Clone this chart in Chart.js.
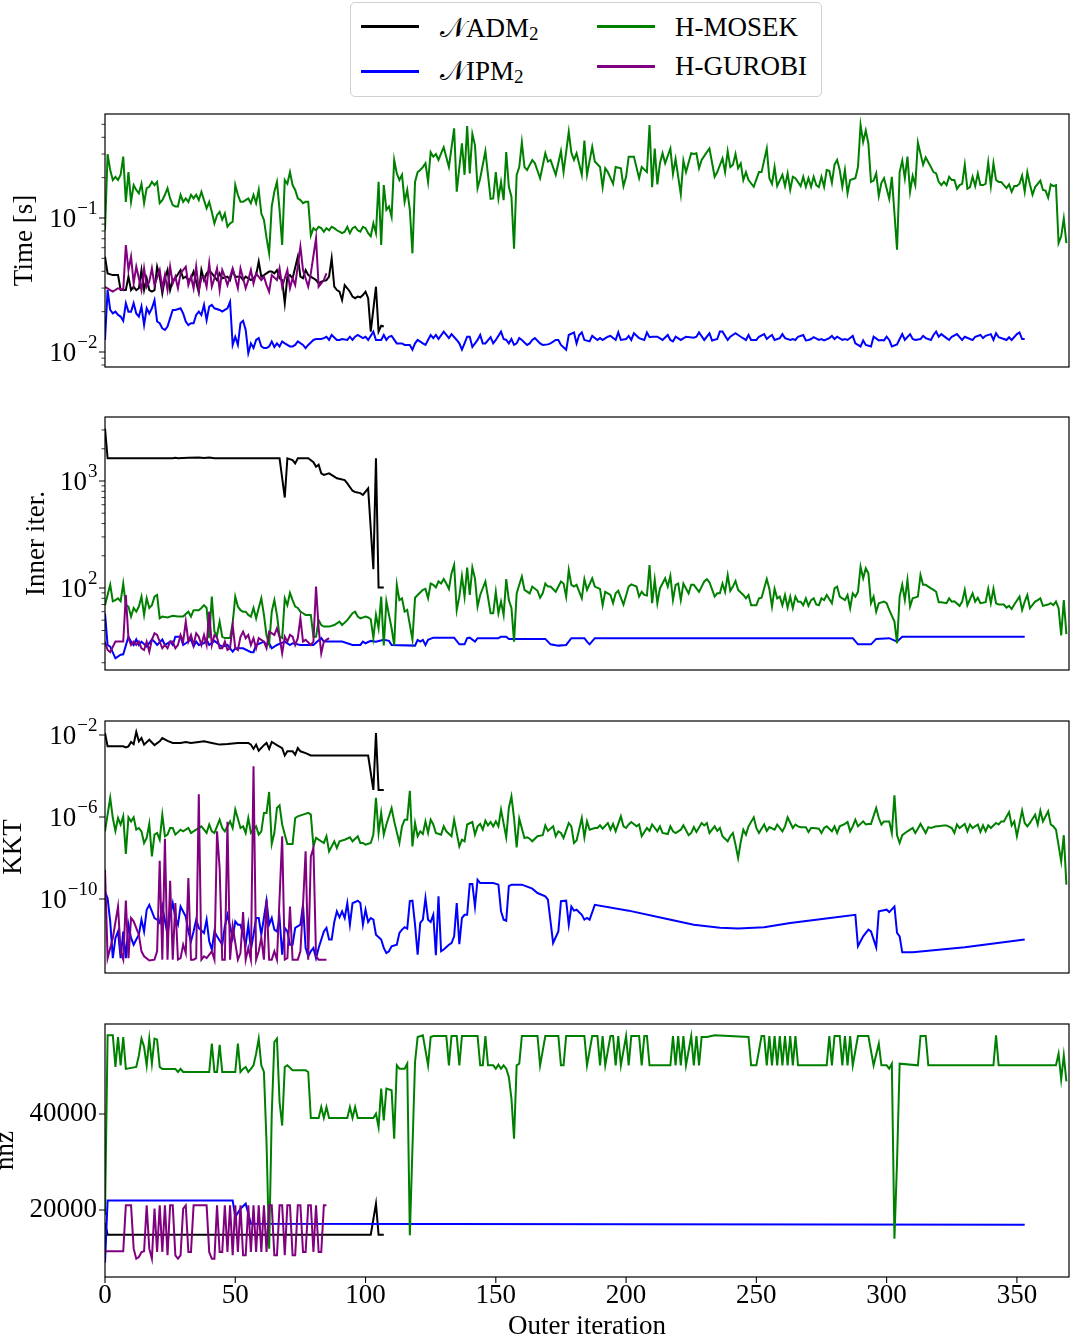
<!DOCTYPE html>
<html><head><meta charset="utf-8">
<script src="https://cdn.jsdelivr.net/npm/chart.js@4.4.1/dist/chart.umd.min.js"></script>
<style>
html,body{margin:0;padding:0;background:#fff;}
body{width:1071px;height:1336px;position:relative;overflow:hidden;font-family:"Liberation Serif","DejaVu Serif",serif;}
canvas.pan{position:absolute;left:0;}
#lgbox{position:absolute;left:350px;top:2px;width:472px;height:95px;border:1px solid #d0d0d0;border-radius:5px;box-sizing:border-box;background:#fff;}
.ll{position:absolute;height:2.6px;}
.lt{position:absolute;font-size:27px;line-height:27px;white-space:nowrap;color:#000;}
.sb{font-size:19px;position:relative;top:3px;}
</style></head>
<body>
<div id="lgbox"></div>
<div class="ll" style="left:361px;top:25.4px;width:58px;background:#000000"></div>
<div class="ll" style="left:361px;top:70.4px;width:58px;background:#0000ff"></div>
<div class="ll" style="left:597px;top:25.4px;width:58px;background:#008000"></div>
<div class="ll" style="left:597px;top:65.4px;width:58px;background:#800080"></div>
<div class="lt" id="lg0" style="left:440px;top:14.7px"></div>
<div class="lt" id="lg1" style="left:440px;top:58.1px"></div>
<div class="lt" id="lg2" style="left:675px;top:14.1px"></div>
<div class="lt" id="lg3" style="left:675px;top:53.4px"></div>
<canvas class="pan" id="c1" width="1071" height="273" style="top:104px"></canvas>
<canvas class="pan" id="c2" width="1071" height="273" style="top:407px"></canvas>
<canvas class="pan" id="c3" width="1071" height="272" style="top:711px"></canvas>
<canvas class="pan" id="c4" width="1071" height="322" style="top:1014px"></canvas>
<script>
// ---------- labels ----------
const seriesNames = ['𝒩ADM', '𝒩IPM', 'H-MOSEK', 'H-GUROBI'];
const seriesSubs = ['2', '2', '', ''];
const seriesColors = ['#000000', '#0000ff', '#008000', '#800080'];
const panelTitles = ['Time [s]', 'Inner iter.', 'KKT', 'nnz'];
const xTitle = 'Outer iteration';
const iterTicks = [0, 50, 100, 150, 200, 250, 300, 350];
const iterLabels = ['0', '50', '100', '150', '200', '250', '300', '350'];

const timeMajor = [0.01, 0.1];
const timeExp = ['−2', '−1'];
const timeMinor = [0.008, 0.009, 0.02, 0.03, 0.04, 0.05, 0.06, 0.07, 0.08, 0.09, 0.2, 0.3, 0.4, 0.5];
const innerMajor = [100, 1000];
const innerExp = ['2', '3'];
const innerMinor = [20, 30, 40, 50, 60, 70, 80, 90, 200, 300, 400, 500, 600, 700, 800, 900, 2000, 3000];
const kktMajor = [1e-10, 1e-6, 1e-2];
const kktExp = ['−10', '−6', '−2'];
const nnzMajor = [20000, 40000];
const nnzLabels = ['20000', '40000'];

// ---------- Time [s] ----------
const timeADM = [[0,.0514],[1,.0386],[3,.0375],[5,.0375],[6,.029],[8,.029],[9,.0365],[10,.029],[11,.0307],[12,.029],[13,.0299],[14,.0409],[15,.029],[16,.0355],[17,.029],[18,.0282],[19,.029],[20,.0433],[21,.0365],[22,.0274],[23,.0355],[24,.0409],[25,.029],[26,.0344],[27,.0355],[29,.0409],[30,.0355],[31,.0365],[32,.0344],[33,.0355],[34,.0398],[36,.0278],[37,.0409],[38,.0344],[39,.0386],[40,.0409],[42,.0365],[43,.0344],[44,.0386],[45,.0355],[47,.0365],[48,.0344],[49,.0409],[50,.0365],[52,.0365],[53,.0344],[54,.0365],[56,.0344],[57,.0355],[58,.0375],[59,.0473],[60,.0365],[61,.0375],[63,.0398],[64,.0398],[65,.0386],[66,.0409],[67,.0355],[68,.0344],[69,.0231],[70,.0365],[71,.0375],[72,.0355],[74,.0514],[75,.0365],[76,.0355],[77,.0409],[78,.0375],[80,.0355],[81,.0344],[82,.0325],[83,.0335],[85,.0344],[86,.0365],[87,.050],[88,.0307],[89,.029],[90,.0282],[91,.0244],[92,.0316],[93,.0299],[94,.0282],[95,.0259],[96,.0252],[97,.0259],[98,.0256],[99,.0266],[100,.0282],[101,.0252],[102,.0142],[104,.0307],[105,.0142],[106,.0157],[107,.0155]];
const timeIPM = [[0,.0123],[1,.029],[2,.0206],[3,.0194],[4,.02],[5,.0189],[6,.0184],[7,.0171],[8,.0231],[9,.02],[10,.02],[11,.0231],[12,.0194],[13,.0184],[14,.0218],[15,.0159],[16,.0212],[17,.0194],[18,.0212],[19,.0244],[20,.0169],[21,.0164],[22,.015],[23,.0146],[24,.0155],[25,.0179],[26,.0206],[27,.0206],[29,.0212],[30,.0194],[31,.0169],[32,.0159],[33,.0164],[34,.0164],[35,.0189],[36,.02],[37,.0189],[38,.0225],[39,.0173],[40,.0218],[41,.0225],[42,.0212],[44,.0206],[45,.02],[46,.0206],[47,.0212],[48,.0237],[49,.0113],[50,.013],[51,.0113],[52,.0164],[53,.0171],[54,.0146],[55,.0098],[56,.0116],[57,.0107],[58,.0123],[59,.0127],[60,.011],[61,.0107],[62,.0107],[63,.011],[64,.012],[65,.0109],[66,.0116],[67,.011],[68,.012],[69,.0116],[71,.011],[72,.011],[73,.0113],[74,.012],[76,.0113],[77,.0107],[78,.0113],[80,.0123],[81,.0125],[83,.0125],[84,.0127],[85,.013],[86,.0123],[87,.0134],[89,.0123],[90,.0123],[91,.0125],[93,.0123],[94,.013],[95,.0123],[96,.013],[97,.0134],[99,.0127],[100,.013],[101,.0123],[103,.0142],[104,.0123],[106,.0123],[107,.0134],[108,.0123],[109,.013],[110,.0132],[112,.0116],[113,.0116],[114,.0116],[115,.0113],[117,.0113],[118,.0104],[119,.0116],[120,.0123],[122,.0116],[123,.0113],[124,.0123],[125,.0134],[126,.0127],[127,.0134],[128,.0125],[130,.0142],[132,.0127],[133,.0136],[135,.0123],[136,.0116],[137,.0104],[138,.0116],[139,.013],[140,.013],[141,.0109],[143,.0123],[144,.0134],[145,.0116],[146,.0116],[148,.0129],[149,.0116],[150,.0123],[152,.0142],[153,.0125],[154,.0123],[155,.0116],[156,.0125],[157,.0113],[158,.0116],[159,.0127],[160,.0123],[162,.0113],[163,.0116],[164,.0123],[165,.0127],[167,.0116],[168,.0113],[170,.0114],[171,.0116],[173,.0123],[174,.0123],[175,.0113],[177,.0104],[178,.0134],[180,.014],[181,.0116],[182,.0134],[183,.014],[184,.0123],[186,.012],[187,.0132],[189,.0123],[190,.0127],[191,.0123],[193,.013],[194,.0132],[196,.0123],[197,.014],[198,.0123],[200,.0125],[201,.0132],[202,.0123],[203,.0138],[205,.0127],[207,.0123],[208,.014],[209,.0129],[210,.013],[212,.013],[214,.0123],[216,.0134],[217,.0123],[218,.012],[219,.013],[221,.0123],[223,.013],[226,.0128],[227,.013],[228,.014],[230,.0123],[232,.0138],[233,.0122],[235,.0125],[236,.0142],[237,.0142],[239,.0123],[240,.013],[242,.0138],[244,.013],[246,.0123],[247,.0134],[248,.0123],[250,.0123],[251,.013],[253,.0136],[254,.0125],[255,.013],[256,.0134],[257,.0123],[259,.0127],[260,.0136],[261,.0127],[263,.0123],[264,.0125],[265,.0123],[266,.013],[268,.0134],[269,.0122],[270,.0123],[271,.0125],[272,.0129],[274,.0123],[275,.0125],[276,.0122],[278,.0127],[279,.0132],[280,.0125],[281,.013],[283,.0123],[284,.0125],[285,.0123],[287,.0132],[288,.0116],[290,.011],[291,.0122],[292,.0113],[294,.011],[295,.013],[297,.0122],[298,.0123],[299,.0122],[300,.013],[301,.0123],[302,.011],[304,.0114],[305,.0125],[306,.0136],[307,.0123],[309,.0136],[310,.0125],[311,.0123],[313,.0125],[314,.0132],[315,.0127],[317,.0123],[318,.0134],[319,.0142],[320,.013],[321,.0136],[323,.0127],[324,.0123],[325,.013],[327,.0136],[328,.0129],[329,.0123],[330,.013],[332,.0125],[333,.0123],[334,.013],[336,.0134],[337,.0127],[338,.0132],[340,.0136],[341,.0123],[342,.0138],[343,.0129],[345,.0125],[346,.0123],[347,.0129],[348,.0123],[350,.0136],[351,.014],[352,.0125],[353,.0125]];
const timeMOSEK = [[0,.081],[1,.30],[2,.228],[3,.192],[4,.203],[5,.192],[6,.21],[7,.287],[8,.132],[9,.22],[10,.132],[11,.176],[12,.162],[13,.153],[14,.18],[15,.129],[16,.167],[17,.171],[18,.186],[19,.176],[20,.186],[21,.129],[22,.136],[23,.149],[24,.167],[25,.14],[26,.125],[27,.122],[28,.122],[29,.149],[30,.132],[31,.14],[32,.132],[33,.149],[34,.14],[35,.149],[36,.136],[37,.157],[38,.136],[39,.118],[40,.132],[41,.111],[42,.091],[43,.105],[44,.111],[45,.097],[46,.108],[47,.086],[48,.091],[49,.094],[50,.176],[51,.149],[52,.132],[53,.132],[54,.136],[55,.14],[56,.129],[57,.149],[58,.129],[59,.162],[60,.108],[61,.097],[62,.071],[63,.0545],[64,.122],[65,.157],[66,.186],[67,.115],[68,.063],[69,.192],[70,.18],[71,.22],[72,.176],[73,.162],[74,.14],[75,.136],[76,.129],[77,.132],[78,.132],[79,.074],[80,.084],[81,.081],[82,.086],[83,.084],[84,.079],[85,.084],[86,.081],[87,.086],[88,.084],[89,.081],[90,.079],[91,.077],[92,.079],[93,.086],[94,.077],[95,.084],[96,.086],[97,.081],[98,.079],[99,.086],[100,.084],[101,.077],[102,.073],[103,.091],[104,.077],[105,.186],[106,.063],[107,.176],[108,.115],[109,.122],[110,.102],[111,.271],[112,.215],[113,.192],[114,.21],[115,.132],[116,.162],[117,.115],[118,.0545],[119,.186],[120,.22],[121,.228],[122,.24],[123,.256],[124,.186],[125,.31],[126,.287],[127,.30],[128,.271],[129,.304],[130,.337],[132,.24],[134,.467],[135,.157],[137,.361],[138,.21],[139,.486],[140,.215],[141,.424],[142,.35],[143,.167],[144,.198],[146,.315],[148,.139],[149,.14],[150,.22],[151,.14],[152,.186],[153,.136],[154,.31],[155,.171],[156,.144],[157,.059],[158,.21],[159,.24],[160,.367],[161,.24],[162,.228],[164,.271],[165,.256],[167,.198],[169,.304],[170,.264],[171,.271],[173,.21],[175,.315],[176,.22],[178,.44],[179,.307],[180,.271],[181,.304],[183,.21],[184,.378],[185,.21],[187,.34],[188,.264],[190,.24],[191,.17],[192,.235],[193,.22],[195,.18],[196,.24],[198,.235],[199,.173],[200,.203],[201,.287],[203,.287],[205,.198],[206,.24],[208,.22],[209,.494],[210,.17],[211,.33],[212,.178],[213,.256],[214,.304],[215,.256],[217,.33],[218,.213],[219,.275],[221,.15],[222,.268],[223,.22],[225,.304],[226,.30],[227,.304],[228,.235],[229,.271],[231,.31],[232,.33],[234,.203],[235,.22],[237,.278],[238,.22],[239,.315],[240,.24],[241,.25],[242,.30],[243,.235],[244,.256],[245,.192],[246,.22],[247,.192],[249,.171],[251,.22],[252,.22],[254,.33],[255,.198],[256,.18],[257,.24],[258,.173],[260,.21],[261,.173],[262,.215],[263,.162],[264,.203],[265,.198],[267,.173],[268,.203],[269,.171],[270,.198],[271,.171],[272,.203],[273,.176],[274,.17],[275,.203],[276,.171],[277,.228],[278,.225],[279,.183],[280,.25],[281,.271],[282,.228],[283,.171],[284,.228],[285,.153],[286,.192],[288,.198],[289,.24],[290,.494],[291,.37],[292,.45],[293,.36],[294,.186],[295,.19],[296,.215],[297,.146],[298,.183],[299,.198],[301,.139],[302,.203],[304,.058],[305,.22],[306,.268],[307,.198],[308,.287],[309,.157],[310,.206],[311,.176],[312,.365],[314,.25],[315,.283],[317,.24],[318,.22],[319,.215],[320,.186],[321,.176],[322,.186],[323,.176],[324,.203],[325,.192],[326,.192],[327,.165],[328,.176],[329,.18],[330,.25],[331,.165],[332,.17],[333,.203],[334,.173],[335,.215],[336,.176],[337,.176],[338,.18],[339,.26],[340,.173],[341,.256],[342,.192],[343,.186],[344,.186],[345,.176],[346,.167],[347,.178],[348,.157],[349,.173],[350,.173],[351,.18],[352,.207],[353,.157],[354,.22],[355,.178],[356,.149],[357,.17],[359,.19],[360,.162],[361,.16],[362,.142],[363,.178],[364,.173],[365,.176],[366,.065],[367,.073],[368,.099],[369,.065]];
const timeGUROBI = [[0,.0307],[2,.029],[3,.0282],[5,.0299],[7,.029],[8,.0628],[9,.0409],[10,.0514],[11,.0325],[12,.0433],[14,.029],[15,.0421],[16,.0307],[17,.0335],[18,.0421],[19,.0316],[21,.0409],[22,.0299],[23,.0375],[24,.029],[25,.0433],[26,.0325],[27,.0365],[28,.0299],[29,.0386],[31,.0433],[32,.0316],[33,.0365],[34,.0299],[35,.0433],[36,.029],[37,.0355],[38,.0365],[39,.0307],[40,.0459],[41,.0307],[42,.0355],[43,.0421],[44,.029],[45,.0409],[46,.0365],[47,.0316],[49,.0421],[50,.0355],[51,.0299],[52,.0421],[53,.0355],[54,.0299],[55,.0344],[56,.0409],[57,.0325],[58,.0386],[60,.0344],[61,.0365],[62,.0316],[63,.0282],[64,.0375],[66,.0344],[67,.0421],[68,.0307],[69,.0355],[70,.0409],[71,.0299],[72,.0355],[73,.0316],[75,.0611],[76,.0409],[78,.0307],[79,.0386],[81,.0706],[82,.0307],[84,.0344],[85,.0386]];

// ---------- Inner iter. ----------
const innerADM = [[0,3100],[1,1630],[26,1630],[27,1650],[28,1630],[32,1650],[36,1660],[38,1640],[40,1660],[42,1630],[67,1630],[69,700],[70,1630],[72,1570],[73,1460],[74,1630],[78,1630],[80,1500],[81,1360],[82,1420],[83,1180],[84,1140],[86,1180],[88,1100],[89,1060],[92,1020],[93,950],[95,810],[96,790],[98,770],[99,740],[101,853],[103,150],[104,1630],[105,101],[107,101]];
const innerIPM = [[0,58],[1,29.3],[2,28.3],[4,22],[6,23.8],[7,24],[9,35],[10,31.5],[11,29.3],[12,33],[13,29.3],[14,31.5],[16,28.3],[18,33],[19,31.5],[20,29.3],[22,33],[23,29.3],[25,31.5],[26,29.3],[27,35],[29,35],[30,29.3],[31,30.4],[33,33],[34,28.3],[35,31.5],[36,29.3],[38,30.4],[39,33],[40,29.3],[42,32],[44,29.3],[45,28.3],[47,29.3],[48,27.3],[49,25.4],[50,27.3],[53,27.3],[56,25.1],[57,25.1],[58,29.3],[61,31.5],[62,29.3],[63,30.4],[64,27.3],[66,29.3],[69,31.5],[71,29.3],[72,30.4],[75,29.3],[80,29.3],[83,34],[84,31.5],[91,31.5],[95,29.3],[98,29.3],[99,31.5],[100,30.4],[102,32],[104,31.5],[107,32.7],[109,32],[110,29.3],[119,28.9],[120,32.7],[121,31.5],[122,32.7],[123,29.3],[124,32.7],[126,34.3],[134,34.3],[136,29.7],[138,29.7],[139,33.9],[140,34.3],[142,31.5],[143,33.9],[151,33.9],[152,35],[154,35],[155,33.4],[169,33.4],[171,29.7],[174,28.9],[177,29.3],[179,33.9],[184,33.9],[185,31.5],[186,29.7],[188,33.9],[287,33.9],[289,29.7],[294,29.7],[296,33.4],[301,33.9],[304,31.5],[306,35],[353,35]];
const innerMOSEK = [[0,69],[1,86],[2,107],[3,75],[4,77],[5,80],[6,75],[7,110],[8,69],[9,67],[10,54],[11,65],[12,60],[13,67],[14,83],[15,56],[16,80],[17,65],[18,69],[19,83],[20,86],[21,52],[22,54],[24,53],[26,55],[28,54],[30,54],[31,57],[32,60],[33,54],[34,62],[36,62],[37,65],[38,69],[39,65],[40,34],[41,83],[42,39],[43,36],[44,48.5],[45,35],[46,34],[48,34],[49,47],[50,83],[51,67],[52,62],[53,60],[54,60],[55,56],[56,54],[57,65],[58,52],[59,65],[60,80],[61,56],[62,36],[63,30],[64,60],[65,77],[66,56],[67,35],[68,34],[69,80],[70,69],[71,90],[72,77],[73,67],[74,65],[75,60],[76,58],[77,56],[79,56],[80,35],[81,35],[82,50],[83,45],[84,43.5],[86,43.5],[88,45],[90,48.5],[91,45],[93,50],[94,54],[95,58],[96,60],[97,54],[98,52],[100,54],[101,53],[102,51],[103,34],[104,56],[105,42],[106,83],[107,29],[108,75],[109,56],[110,42],[111,29],[112,107],[113,77],[114,80],[115,60],[116,62.3],[118,33],[119,81],[120,86],[122,96],[123,98],[124,80],[125,110],[126,107],[127,101],[128,115],[129,110],[130,121],[131,110],[132,98],[133,137],[134,164],[135,62],[136,83],[137,129],[138,83],[139,155],[140,86],[141,155],[142,123],[143,67],[144,86],[146,115],[148,58],[149,58],[150,92],[151,58],[152,74.5],[153,56],[154,121],[155,77],[156,65],[157,31.5],[158,89],[159,107],[160,128],[161,96],[163,89],[164,103],[166,94],[167,81],[168,89],[169,110],[170,103],[171,103],[173,92],[175,115],[176,110],[177,83],[178,147],[179,107],[180,103],[181,107],[183,80],[184,121],[185,96],[187,123],[188,103],[190,98],[191,69],[192,92],[194,86],[195,72],[196,89],[197,94],[199,70],[201,103],[202,108],[204,103],[205,83],[206,92],[207,86],[208,85],[209,164],[210,72],[211,119],[212,72],[213,99],[215,123],[216,103],[217,130],[218,77],[219,107],[220,110],[221,77],[222,110],[223,99],[224,89],[225,107],[226,107],[228,92],[229,103],[230,115],[231,121],[232,113],[234,83],[235,89],[236,89],[237,110],[238,92],[239,132],[240,94],[241,103],[242,116],[243,96],[245,86],[246,80],[247,86],[248,69],[250,69],[251,80],[252,81],[254,121],[255,98],[256,67],[257,98],[258,80],[259,83],[260,69],[261,86],[262,65.5],[263,83],[264,64.6],[265,83],[266,74.5],[267,74.5],[268,69],[269,80],[270,68],[271,77],[272,80],[273,70],[274,69],[275,80],[276,77],[277,86],[279,72],[280,99],[281,103],[282,83],[284,77],[285,86],[286,64.6],[287,89],[288,83],[289,92],[290,158],[291,123],[292,153],[293,137],[294,72],[295,83],[296,60],[297,72],[299,74.5],[300,72],[301,62.3],[303,48.5],[304,30.4],[305,83],[306,107],[307,77],[308,119],[309,67],[310,80],[312,83],[313,132],[314,107],[315,107],[317,99],[318,96],[319,92],[320,73.5],[321,73.5],[323,72],[324,80],[325,74.5],[326,75],[328,68],[329,74.5],[330,96],[331,69],[333,89],[334,74.5],[335,81],[336,72],[338,73.5],[339,98],[340,72],[341,98],[342,72],[343,70],[345,70],[346,65.5],[347,68],[348,63.6],[349,70],[351,83],[352,62.3],[353,74.5],[354,86],[355,64.6],[357,74.5],[358,77],[359,80],[360,68],[362,70],[363,72],[364,69],[365,74.5],[366,64.6],[367,36],[368,77],[369,37]];
const innerGUROBI = [[0,31.5],[1,26.3],[2,25.1],[4,31.5],[5,31.5],[7,31.5],[8,86],[9,33.9],[10,29.3],[11,31.5],[12,29.3],[13,31.5],[14,27.3],[15,26.3],[16,31.5],[17,25.4],[18,32.7],[19,37.7],[20,36.4],[22,27.3],[23,29.3],[24,27.3],[25,31.5],[26,31.5],[27,27.3],[28,29.3],[29,36.4],[30,31.5],[31,48.5],[32,31.5],[33,36.4],[34,29.3],[35,37.7],[36,35],[37,29.3],[38,36.4],[39,29.3],[40,60],[41,29.3],[42,36.4],[43,34.4],[44,27.3],[45,27.3],[46,31.5],[47,26.3],[48,27.3],[49,45],[50,27.3],[51,26.3],[52,35],[53,39],[54,33.9],[55,36.4],[56,29.3],[57,33.9],[58,27.3],[59,33.9],[61,31.5],[62,27.3],[63,39],[65,36.4],[66,42],[67,35],[68,24.5],[69,35],[70,31.5],[71,36.4],[72,35],[73,29.3],[74,33.9],[75,52],[76,31.5],[77,32.7],[79,29.3],[80,31.5],[81,103],[82,42],[83,24.5],[84,31.5],[86,33.9]];

// ---------- KKT ----------
const kktADM = [[0,1.26e-2],[1,2.8e-3],[7,2.8e-3],[8,2.5e-3],[9,2.8e-3],[10,4.6e-3],[11,3.6e-3],[12,1.4e-2],[13,4.9e-3],[14,7.1e-3],[15,3.4e-3],[17,5.9e-3],[19,3.2e-3],[21,4.9e-3],[22,7.1e-3],[24,5.2e-3],[26,4.1e-3],[29,4.1e-3],[31,4.6e-3],[33,4.1e-3],[36,4.6e-3],[38,4.9e-3],[41,4.1e-3],[44,3.4e-3],[47,3.6e-3],[51,4.1e-3],[55,4.1e-3],[56,3.4e-3],[57,2.1e-3],[58,3.4e-3],[59,1.7e-3],[61,3.2e-3],[62,4.1e-3],[63,2.1e-3],[64,4.6e-3],[66,3.2e-3],[68,2.3e-3],[69,1e-3],[70,1.6e-3],[72,1.6e-3],[73,1.1e-3],[74,2.3e-3],[75,1.6e-3],[77,1.3e-3],[79,1e-3],[101,1e-3],[103,2.1e-5],[104,1.26e-2],[105,2.1e-5],[107,2.1e-5]];
const kktIPM = [[0,2.3e-10],[1,1.1e-10],[2,8.1e-12],[3,1.3e-13],[4,1.26e-12],[5,2.6e-12],[6,1.3e-13],[7,2.6e-12],[8,1.3e-13],[9,5.6e-12],[10,1.26e-12],[11,5.9e-13],[12,1.05e-12],[13,1.8e-12],[14,9.8e-12],[15,2.6e-12],[16,3e-11],[17,5.2e-11],[18,2.5e-11],[19,1.18e-11],[20,9.8e-12],[21,6.8e-12],[22,4.3e-11],[24,1.8e-12],[25,1.7e-11],[26,6.3e-11],[27,1.18e-11],[28,5.6e-12],[29,4.3e-11],[31,1.4e-11],[32,2.6e-12],[33,8.6e-13],[34,2.6e-12],[35,9.8e-12],[36,3.9e-12],[38,2.2e-12],[39,9.8e-12],[40,8.6e-13],[41,3.4e-13],[42,2.6e-12],[43,1.5e-12],[45,5.9e-13],[46,4.7e-12],[47,1.7e-11],[49,1.26e-12],[50,8.1e-12],[51,5.6e-12],[52,5.6e-12],[53,1.8e-12],[54,5.9e-13],[55,5.6e-12],[56,3.4e-13],[57,1.8e-12],[58,1.18e-11],[59,1.18e-11],[60,1.8e-12],[62,8.3e-11],[63,5.6e-12],[64,1.18e-11],[65,3.2e-12],[66,2.6e-12],[67,1.18e-11],[68,1.9e-13],[69,3.9e-12],[70,2.6e-12],[71,5.9e-13],[72,5.9e-13],[73,3.9e-12],[75,5.6e-12],[76,5.2e-11],[77,4.1e-13],[78,1.6e-13],[79,2.8e-13],[80,4.1e-13],[81,1.3e-13],[82,4.1e-13],[84,2.6e-12],[85,3.9e-12],[86,1.05e-12],[87,1.05e-12],[88,7.6e-12],[89,2.5e-11],[90,1.28e-11],[91,2.5e-11],[92,1.18e-11],[93,6.3e-11],[94,5.6e-12],[95,6.3e-11],[96,7.1e-11],[97,8.3e-11],[98,6.3e-11],[99,5.6e-12],[100,3e-11],[101,7.6e-12],[102,1.18e-11],[103,9.8e-12],[104,1.8e-12],[106,1.05e-12],[107,4.1e-13],[108,2.3e-13],[109,2.8e-13],[110,4.9e-13],[112,5.9e-13],[113,2.2e-12],[114,3.2e-12],[115,4.2e-12],[116,3.6e-12],[117,7.8e-11],[118,8.3e-11],[119,5.6e-12],[120,1.9e-13],[121,6.8e-12],[122,9.8e-12],[123,1.1e-10],[124,9.8e-12],[125,7.6e-12],[126,1.7e-11],[127,1.8e-13],[128,1.35e-10],[129,2.8e-13],[130,3.4e-13],[132,5.9e-13],[133,7.1e-13],[134,1.5e-12],[135,6.3e-11],[136,6.3e-13],[137,1.18e-11],[138,1.7e-11],[139,1.7e-11],[140,5.4e-10],[141,5.4e-10],[142,4.3e-11],[143,8.7e-10],[144,6e-10],[149,6e-10],[151,5e-10],[152,2.5e-11],[153,9.8e-12],[154,8.7e-12],[155,4.2e-10],[156,5e-10],[160,5e-10],[164,3.2e-10],[166,1.95e-10],[169,1.35e-10],[170,9.3e-11],[172,7.1e-13],[174,2.6e-12],[175,7.8e-11],[177,8.3e-11],[178,5.6e-12],[179,4.3e-11],[180,2.7e-11],[181,3e-11],[183,1.7e-11],[184,9.8e-12],[185,1.18e-11],[186,9.8e-12],[188,5.2e-11],[201,2.7e-11],[214,1.18e-11],[226,5.6e-12],[236,3.9e-12],[243,3.6e-12],[253,4.2e-12],[263,6.8e-12],[276,1.1e-11],[288,1.7e-11],[289,4.9e-13],[291,1.5e-12],[293,3.2e-12],[294,2.6e-12],[296,4.4e-13],[297,2.5e-11],[300,3e-11],[301,2.3e-11],[303,4.3e-11],[304,2.2e-12],[305,1.5e-12],[306,2.5e-13],[310,2.5e-13],[330,4.4e-13],[353,1.05e-12]];
const kktMOSEK = [[0,2e-7],[2,8.5e-6],[3,8.9e-7],[4,2.1e-7],[5,8.9e-7],[6,4.3e-7],[7,1.08e-6],[8,1.58e-8],[9,9.6e-7],[10,6.1e-7],[11,9.6e-7],[12,2.4e-7],[13,2.9e-7],[14,2e-7],[15,5.4e-8],[16,9.5e-8],[17,4.6e-7],[18,1.2e-8],[19,1.38e-7],[20,1.66e-7],[21,7.8e-8],[22,1.3e-6],[23,1.15e-7],[24,1.38e-7],[25,2.9e-7],[26,2.9e-7],[27,1.38e-7],[29,2.4e-7],[30,2e-7],[32,2.9e-7],[33,1.66e-7],[35,2.4e-7],[37,3.5e-7],[39,1.66e-7],[40,4.3e-7],[41,2e-7],[42,1.66e-7],[44,7.4e-7],[45,2.9e-7],[46,2e-7],[48,6.1e-7],[49,2.9e-7],[50,2.3e-6],[52,2.9e-7],[53,3.5e-7],[54,1.66e-7],[55,8.9e-7],[56,1.66e-7],[58,3.5e-7],[59,1.38e-7],[60,2e-7],[61,1.58e-6],[62,1.58e-6],[63,1.66e-5],[64,4.8e-8],[65,1.66e-7],[66,2.75e-6],[67,3.7e-6],[68,4.3e-7],[69,1.38e-7],[70,4.8e-8],[72,4.8e-8],[73,8.9e-7],[74,1.08e-6],[76,1.3e-6],[78,1.58e-6],[79,1.3e-6],[80,3.7e-8],[81,9.5e-8],[82,7.8e-8],[84,5.4e-8],[85,1.15e-7],[86,2.1e-8],[88,6.5e-8],[89,3.1e-8],[90,6.5e-8],[92,7.8e-8],[94,1.02e-7],[95,6.5e-8],[97,1.15e-7],[98,5.4e-8],[99,5.4e-8],[100,4.5e-8],[102,5.4e-8],[103,1.38e-7],[104,8.5e-6],[105,1.66e-7],[106,1.58e-6],[107,1.38e-7],[108,4.3e-7],[110,2.75e-6],[111,6.1e-7],[113,5.4e-8],[114,3.5e-7],[115,7.4e-7],[116,7.4e-7],[117,1.9e-5],[118,3.7e-8],[119,5.1e-7],[120,1.15e-7],[121,2e-7],[122,1.48e-7],[123,6.1e-7],[124,1.66e-7],[125,7.4e-7],[126,4.3e-7],[127,1.66e-7],[129,1.38e-7],[130,3.5e-7],[131,2e-7],[133,1.15e-7],[134,7.4e-7],[136,3.7e-8],[137,7.8e-8],[138,6.5e-8],[139,4.3e-7],[141,5.7e-7],[142,1.38e-7],[143,3.5e-7],[144,4.6e-7],[145,2.4e-7],[146,6.6e-7],[147,3.9e-7],[148,5.7e-7],[149,3.5e-7],[150,6.1e-7],[151,3.5e-7],[152,2.3e-6],[154,1.02e-7],[155,2.75e-6],[156,1.02e-5],[157,8.9e-7],[158,3.3e-8],[159,8.3e-7],[161,9.5e-8],[162,1.02e-7],[163,8.7e-8],[164,6.5e-8],[166,1.15e-7],[168,1.29e-7],[169,3.9e-7],[170,2.1e-7],[172,3.5e-7],[173,1.15e-7],[174,2e-7],[175,1.66e-7],[176,9.5e-8],[178,5.1e-7],[179,3.5e-7],[180,5.4e-8],[181,7.1e-8],[183,8.9e-7],[184,1.02e-7],[185,6.1e-7],[186,2.4e-7],[188,2.9e-7],[189,2.9e-7],[190,3.9e-7],[191,2.7e-7],[193,5.1e-7],[194,2.4e-7],[195,4.6e-7],[196,2e-7],[198,1.08e-6],[199,3.5e-7],[200,2.9e-7],[201,4.3e-7],[202,5.7e-7],[204,3.5e-7],[205,4.3e-7],[206,1.15e-7],[208,2.9e-7],[209,2.1e-7],[210,4.3e-7],[212,2e-7],[213,3.5e-7],[214,1.66e-7],[216,1.48e-7],[217,3.5e-7],[218,2e-7],[219,1.66e-7],[221,2.4e-7],[222,3.9e-7],[224,1.29e-7],[225,1.66e-7],[226,3.2e-7],[227,1.86e-7],[229,5.1e-7],[230,3.9e-7],[231,5.1e-7],[232,1.66e-7],[234,3.5e-7],[235,2.1e-7],[236,2.9e-7],[237,1.15e-7],[239,6.5e-8],[240,1.15e-7],[241,1.66e-7],[242,4.5e-8],[243,1e-8],[244,6e-8],[245,2.4e-7],[246,1.38e-7],[247,3.5e-7],[249,9.6e-7],[250,2.9e-7],[251,1.66e-7],[253,4.3e-7],[254,2.1e-7],[255,3.2e-7],[257,2.4e-7],[258,4.3e-7],[260,2e-7],[261,3.5e-7],[262,9.6e-7],[264,2.9e-7],[265,4.3e-7],[266,3.5e-7],[267,3.2e-7],[269,3.2e-7],[270,1.86e-7],[271,2.9e-7],[272,2.9e-7],[274,2.7e-7],[275,1.66e-7],[276,2.9e-7],[277,3.5e-7],[279,2e-7],[280,3.5e-7],[281,1.66e-7],[282,3.5e-7],[284,4.6e-7],[285,5.7e-7],[286,2e-7],[287,3.5e-7],[288,7.4e-7],[289,3.5e-7],[291,6.1e-7],[292,4.3e-7],[293,4.6e-7],[294,4.6e-7],[296,2.75e-6],[297,8.9e-7],[298,4.3e-7],[299,6.1e-7],[301,6.1e-7],[302,1.66e-7],[303,1.15e-5],[304,1.29e-7],[305,5.4e-8],[306,1.29e-7],[308,2e-7],[310,2.9e-7],[311,1.66e-7],[312,2.7e-7],[313,4.6e-7],[315,1.66e-7],[316,3.2e-7],[317,2.9e-7],[319,3.5e-7],[320,3.5e-7],[322,3.9e-7],[323,3.9e-7],[325,2.9e-7],[326,1.66e-7],[327,4.3e-7],[328,2.9e-7],[330,4.6e-7],[331,2e-7],[332,4.3e-7],[333,2.9e-7],[335,4.3e-7],[336,1.86e-7],[337,3.9e-7],[338,2e-7],[339,3.9e-7],[340,2.9e-7],[342,5.1e-7],[343,4.3e-7],[344,6.1e-7],[345,6.1e-7],[347,1.75e-6],[348,3.9e-7],[349,6.1e-7],[350,1.15e-7],[352,2.04e-6],[353,5.1e-7],[354,3.5e-7],[355,5.1e-7],[357,1.3e-6],[358,4.3e-7],[359,2.04e-6],[360,6.1e-7],[362,1.9e-6],[363,4.3e-7],[364,3.5e-7],[365,2.4e-7],[367,6.9e-9],[368,1.29e-7],[369,5e-10]];
const kktGUROBI = [[0,2.7e-9],[1,1.3e-13],[3,1.26e-12],[5,4.3e-11],[6,2.8e-13],[7,1.1e-13],[8,8.3e-11],[9,1.3e-13],[10,1.18e-11],[11,8.1e-12],[13,1.8e-12],[14,2.8e-13],[15,1.6e-13],[17,1e-13],[19,1.1e-13],[20,2.8e-13],[21,7.4e-9],[22,1.1e-13],[23,8.7e-8],[24,1.1e-13],[25,7.8e-10],[26,1.1e-13],[27,6.3e-11],[28,1.1e-13],[29,1.3e-13],[30,5.9e-13],[31,2.3e-13],[32,1.05e-9],[33,1.1e-13],[34,1.1e-13],[35,1.3e-13],[36,1.3e-5],[37,1.1e-13],[38,1.6e-13],[39,1.3e-13],[41,2.8e-13],[42,1.1e-13],[43,2e-7],[44,3.2e-9],[45,1.1e-13],[46,1.1e-13],[47,5.8e-7],[48,1.1e-13],[49,4.7e-12],[51,1.1e-13],[52,2.3e-13],[53,2.3e-11],[54,1.1e-13],[55,4.1e-13],[56,1.1e-13],[57,3e-4],[58,1.1e-13],[59,2.8e-13],[60,1.26e-12],[61,1.1e-13],[62,9.3e-11],[63,1.1e-13],[64,1.1e-13],[65,2.8e-13],[66,1.1e-13],[68,1.15e-7],[69,1.1e-13],[70,1.3e-13],[71,4.3e-11],[72,1.1e-13],[74,1.1e-13],[75,2.8e-13],[76,5.2e-11],[77,2.1e-8],[78,1.1e-13],[79,1.2e-8],[80,3.1e-8],[81,1.6e-13],[82,1.1e-13],[84,1.1e-13],[85,1.1e-13]];

// ---------- nnz ----------
const nnzADM = [[0,17300],[1,14860],[102,14860],[104,21300],[105,14860],[107,14860]];
const nnzIPM = [[0,9000],[1,22000],[49,22000],[50,18540],[52,20280],[54,21320],[56,17150],[353,16950]];
const nnzMOSEK = [[0,19000],[1,56400],[3,56400],[4,49800],[5,56000],[6,50100],[7,56000],[8,49400],[12,49800],[13,52200],[14,55700],[15,54000],[16,50100],[17,55700],[18,50500],[19,55700],[20,55500],[21,49800],[22,49400],[27,49400],[28,48750],[29,49400],[30,48750],[40,48750],[41,54650],[42,48750],[43,48750],[44,54400],[45,48750],[50,48750],[51,54650],[52,48750],[53,49400],[54,49800],[55,48750],[56,49400],[57,50140],[58,52570],[59,55700],[60,50140],[61,48750],[62,34000],[63,11950],[64,40000],[65,55000],[66,55700],[67,42500],[68,37600],[69,49800],[70,50140],[72,49100],[77,49100],[78,48750],[79,39170],[82,39170],[83,41460],[84,39170],[85,41460],[86,39170],[93,39170],[94,41460],[95,39170],[96,41460],[97,39170],[103,39170],[104,40070],[105,37290],[106,45280],[107,38680],[108,45280],[110,44930],[111,34860],[112,50140],[113,49440],[115,49440],[116,50490],[117,14720],[119,50830],[120,56040],[122,56390],[124,50140],[125,56040],[126,56250],[131,56250],[132,50140],[133,56250],[135,56250],[136,50140],[137,56250],[143,56250],[144,50140],[145,50140],[146,56250],[147,50140],[149,50140],[150,49440],[151,50280],[152,49440],[153,50140],[154,49440],[155,47710],[156,43190],[157,34860],[158,50140],[159,50490],[160,56250],[166,56250],[167,50140],[169,56250],[174,56250],[175,50140],[176,50140],[177,56250],[184,56250],[185,50140],[187,56250],[189,56250],[190,50140],[191,56250],[192,50140],[194,56250],[195,56250],[196,50140],[197,56250],[198,50140],[200,56250],[201,50140],[202,56250],[205,56250],[206,50140],[207,56250],[208,56250],[209,50140],[217,50140],[218,56250],[219,50140],[220,56250],[221,50140],[222,56250],[223,50140],[225,56250],[226,50140],[227,56250],[228,50140],[229,56040],[231,56040],[234,56390],[247,56040],[248,50140],[250,50140],[252,56250],[253,56250],[254,50140],[255,56250],[256,50140],[257,56250],[258,50140],[259,56250],[260,50140],[261,56250],[262,50140],[263,56250],[264,50140],[265,56250],[266,50140],[277,50140],[278,56250],[279,50140],[280,56250],[282,56250],[283,50140],[284,56250],[285,50140],[286,56250],[287,50140],[289,56250],[293,56250],[295,50140],[297,54650],[298,50140],[300,50140],[301,49440],[302,50490],[303,14030],[304,30000],[305,50490],[312,50140],[313,56250],[315,56250],[316,50140],[341,50140],[342,56390],[343,50140],[365,50140],[366,52570],[367,47220],[368,52220],[369,46800]];
const nnzGUROBI = [[0,11390],[7,11390],[8,20970],[10,20970],[11,11950],[12,9860],[13,10210],[14,11250],[15,11390],[16,20970],[17,11950],[18,9860],[19,20280],[20,11250],[21,20970],[22,11250],[23,20970],[24,10560],[25,20970],[26,20970],[27,10560],[28,9860],[29,10560],[30,20280],[31,20970],[32,11250],[33,11250],[34,20970],[39,20970],[40,11250],[41,9860],[42,9860],[43,20970],[44,11250],[45,11250],[46,20970],[47,11250],[48,20970],[49,10560],[50,20970],[51,11250],[52,20970],[53,10560],[54,10560],[55,20970],[56,11250],[57,20970],[58,11250],[59,20970],[60,11250],[61,20970],[62,11250],[63,20970],[64,20970],[65,10560],[66,10560],[67,20970],[68,20970],[69,10560],[70,20970],[71,20970],[72,10560],[73,10560],[74,20970],[75,20970],[76,11250],[77,11250],[78,20970],[79,20970],[80,11250],[81,20970],[82,11250],[83,11250],[84,20970],[85,20970]];

// ---------- rendering ----------
const FAM = '"Liberation Serif","DejaVu Serif",serif';
['lg0','lg1','lg2','lg3'].forEach((id, i) => {
  const el = document.getElementById(id);
  el.textContent = seriesNames[i];
  if (seriesSubs[i]) { const s = document.createElement('span'); s.className = 'sb'; s.textContent = seriesSubs[i]; el.appendChild(s); }
});

const frameTicks = {
  id: 'frameTicks',
  afterDraw(chart, args, o) {
    const ctx = chart.ctx, a = chart.chartArea, ys = chart.scales.y, xs = chart.scales.x;
    ctx.save();
    ctx.strokeStyle = '#000';
    ctx.lineWidth = 1.1;
    ctx.beginPath();
    (o.yMajor || []).forEach(v => { const p = ys.getPixelForValue(v); ctx.moveTo(a.left - 6, p); ctx.lineTo(a.left, p); });
    ctx.stroke();
    ctx.lineWidth = 0.8;
    ctx.beginPath();
    (o.yMinor || []).forEach(v => { const p = ys.getPixelForValue(v); ctx.moveTo(a.left - 3.5, p); ctx.lineTo(a.left, p); });
    ctx.stroke();
    if (o.xMajor) {
      ctx.lineWidth = 1.1;
      ctx.beginPath();
      o.xMajor.forEach(v => { const p = xs.getPixelForValue(v); ctx.moveTo(p, a.bottom); ctx.lineTo(p, a.bottom + 6); });
      ctx.stroke();
    }
    // power-of-ten tick labels: base "10" with raised exponent
    if (o.exps) {
      ctx.fillStyle = '#000';
      ctx.textAlign = 'left';
      ctx.textBaseline = 'alphabetic';
      o.yMajor.forEach((v, i) => {
        const p = ys.getPixelForValue(v);
        ctx.font = '27px ' + FAM;
        const w1 = ctx.measureText('10').width;
        ctx.font = '19px ' + FAM;
        const w2 = ctx.measureText(o.exps[i]).width;
        const x0 = a.left - 7.5 - w1 - w2 - 1;
        ctx.font = '27px ' + FAM;
        ctx.fillText('10', x0, p + 9);
        ctx.font = '19px ' + FAM;
        ctx.fillText(o.exps[i], x0 + w1 + 1, p - 4);
      });
    }
    ctx.lineWidth = 1.2;
    ctx.strokeRect(a.left, a.top, a.right - a.left, a.bottom - a.top);
    ctx.restore();
  }
};

function ds(data, k) {
  return { label: seriesNames[k], data: data, borderColor: seriesColors[k], backgroundColor: seriesColors[k],
           borderWidth: 2, pointRadius: 0, fill: false, tension: 0, order: 4 - k };
}

function makePanel(id, sets, yCfg, bottom) {
  const tickFont = { family: FAM, size: 27, lineHeight: 1.2 };
  const xScale = bottom ? {
    type: 'linear', min: 0, max: 370,
    afterBuildTicks: s => { s.ticks = iterTicks.map(v => ({ value: v })); },
    afterFit: s => { s.height = 59; s.paddingLeft = 0; s.paddingRight = 0; },
    grid: { display: false, drawTicks: false }, border: { display: false },
    ticks: { autoSkip: false, maxRotation: 0, padding: 3, color: '#000', font: tickFont, callback: (v, i) => iterLabels[i] },
    title: { display: true, text: xTitle, color: '#000', font: { family: FAM, size: 27, lineHeight: 1 }, padding: { top: 0, bottom: -4 } }
  } : { type: 'linear', min: 0, max: 370, display: false };
  const isLog = yCfg.type === 'logarithmic';
  return new Chart(document.getElementById(id), {
    type: 'line',
    data: { datasets: sets },
    options: {
      responsive: false, animation: false, events: [],
      layout: { padding: { top: 10, bottom: bottom ? 0 : 10, left: 0, right: 2 } },
      plugins: { legend: { display: false }, tooltip: { enabled: false },
                 frameTicks: { yMajor: yCfg.major, yMinor: yCfg.minor, xMajor: bottom ? iterTicks : null, exps: isLog ? yCfg.exps : null } },
      scales: {
        x: xScale,
        y: {
          type: yCfg.type, min: yCfg.min, max: yCfg.max,
          afterBuildTicks: s => { s.ticks = yCfg.major.map(v => ({ value: v })); },
          afterFit: s => { s.width = 105; s.paddingTop = 0; s.paddingBottom = 0; },
          grid: { display: false, drawTicks: false }, border: { display: false },
          ticks: { display: !isLog, autoSkip: false, padding: 8, color: '#000', font: tickFont,
                   callback: (v, i) => (yCfg.labels ? yCfg.labels[i] : '') },
          title: { display: true, text: yCfg.title, color: '#000', font: { family: FAM, size: 27, lineHeight: 1 }, padding: { top: yCfg.tpad, bottom: 0 } }
        }
      }
    },
    plugins: [frameTicks]
  });
}

makePanel('c1', [ds(timeADM,0), ds(timeIPM,1), ds(timeMOSEK,2), ds(timeGUROBI,3)],
  { type: 'logarithmic', min: 0.00773, max: 0.597, major: timeMajor, minor: timeMinor, exps: timeExp, title: panelTitles[0], tpad: 11 }, false);
makePanel('c2', [ds(innerADM,0), ds(innerIPM,1), ds(innerMOSEK,2), ds(innerGUROBI,3)],
  { type: 'logarithmic', min: 17.1, max: 3963, major: innerMajor, minor: innerMinor, exps: innerExp, title: panelTitles[1], tpad: 23 }, false);
makePanel('c3', [ds(kktADM,0), ds(kktIPM,1), ds(kktMOSEK,2), ds(kktGUROBI,3)],
  { type: 'logarithmic', min: 2.45e-14, max: 0.0482, major: kktMajor, minor: [], exps: kktExp, title: panelTitles[2], tpad: 0 }, false);
makePanel('c4', [ds(nnzADM,0), ds(nnzIPM,1), ds(nnzMOSEK,2), ds(nnzGUROBI,3)],
  { type: 'linear', min: 6042, max: 58750, major: nnzMajor, minor: [], labels: nnzLabels, title: panelTitles[3], tpad: -8 }, true);
</script>
</body></html>
